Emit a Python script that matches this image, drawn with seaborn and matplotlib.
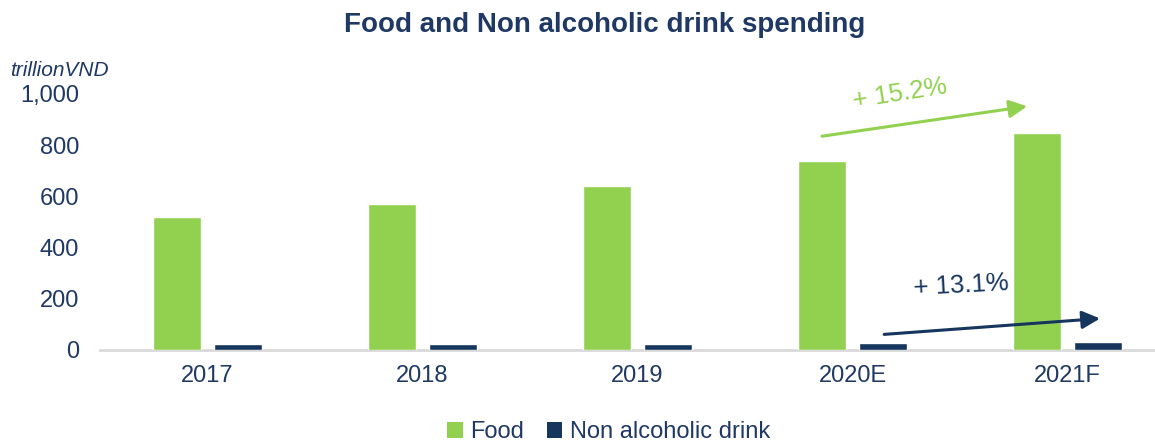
import matplotlib
matplotlib.use("Agg")
import matplotlib.pyplot as plt
from matplotlib.patches import Patch
from matplotlib.ticker import FuncFormatter
import seaborn as sns
import pandas as pd

# Spending by year, trillion VND
years = ["2017", "2018", "2019", "2020E", "2021F"]
food = [518, 572, 642, 737, 849]
drink = [22, 23, 25, 29, 33]
series_names = ["Food", "Non alcoholic drink"]
growth_labels = ["+ 15.2%", "+ 13.1%"]

GREEN = "#92D050"
NAVY = "#17365D"
TEXT = "#1F3864"
AXIS_GRAY = "#D9D9D9"

df = pd.DataFrame({
    "year": years * 2,
    "value": food + drink,
    "series": [series_names[0]] * len(years) + [series_names[1]] * len(years),
})

sns.set_theme(style="white")
plt.rcParams["font.family"] = ["Liberation Sans", "DejaVu Sans"]

fig = plt.figure(figsize=(11.55, 4.42), dpi=100)
ax = fig.add_axes([100 / 1155, 92 / 442, 1057 / 1155, 256 / 442])

sns.barplot(
    data=df, x="year", y="value", hue="series",
    palette=[GREEN, NAVY], width=0.57, gap=0.21,
    saturation=1, legend=False, ax=ax,
)

ax.set_xlim(-0.5, 4.416)
ax.set_ylim(0, 1000)
ax.set_yticks([0, 200, 400, 600, 800, 1000])
ax.yaxis.set_major_formatter(FuncFormatter(lambda v, _: f"{int(v):,}"))
ax.set_xlabel("")
ax.set_ylabel("")
ax.tick_params(axis="both", length=0, colors=TEXT)
ax.tick_params(axis="y", pad=15, labelsize=17)
ax.tick_params(axis="x", pad=10.5, labelsize=17)
for lab in ax.get_xticklabels() + ax.get_yticklabels():
    lab.set_color(TEXT)

for side in ("left", "right", "top"):
    ax.spines[side].set_visible(False)
ax.spines["bottom"].set_color(AXIS_GRAY)
ax.spines["bottom"].set_linewidth(2)
ax.spines["bottom"].set_zorder(0.5)
ax.grid(False)

# Title and unit label
fig.text(605 / 1155, 1 - 25 / 442, "Food and Non alcoholic drink spending",
         ha="center", va="center", fontsize=20, fontweight="bold", color=TEXT)
fig.text(10 / 1155, 1 - 70 / 442, "trillionVND", ha="left", va="center",
         fontsize=15, fontstyle="italic", color=TEXT)

# Growth arrows
ax.annotate("", xy=(3.812, 952), xytext=(2.858, 835),
            arrowprops=dict(arrowstyle="-|>,head_length=0.9,head_width=0.45",
                            color=GREEN, lw=2.2, shrinkA=0, shrinkB=0),
            annotation_clip=False)
ax.text(3.221, 1003, growth_labels[0], ha="center", va="center",
        fontsize=18.5, color=GREEN, rotation=9, clip_on=False)

ax.annotate("", xy=(4.151, 123), xytext=(3.147, 61),
            arrowprops=dict(arrowstyle="-|>,head_length=0.9,head_width=0.45",
                            color=NAVY, lw=2.2, shrinkA=0, shrinkB=0),
            annotation_clip=False)
ax.text(3.505, 252, growth_labels[1], ha="center", va="center",
        fontsize=18.5, color=NAVY, rotation=3, clip_on=False)

# Legend
handles = [Patch(facecolor=GREEN, edgecolor="none"),
           Patch(facecolor=NAVY, edgecolor="none")]
leg = fig.legend(handles, series_names, loc="center",
                 bbox_to_anchor=(608.5 / 1155, 1 - 432 / 442), ncol=2,
                 frameon=False, fontsize=17, handlelength=0.65,
                 handleheight=0.65, handletextpad=0.3, columnspacing=1.0,
                 borderaxespad=0)
for t in leg.get_texts():
    t.set_color(TEXT)

fig.savefig("out.png", dpi=100, facecolor="white")
